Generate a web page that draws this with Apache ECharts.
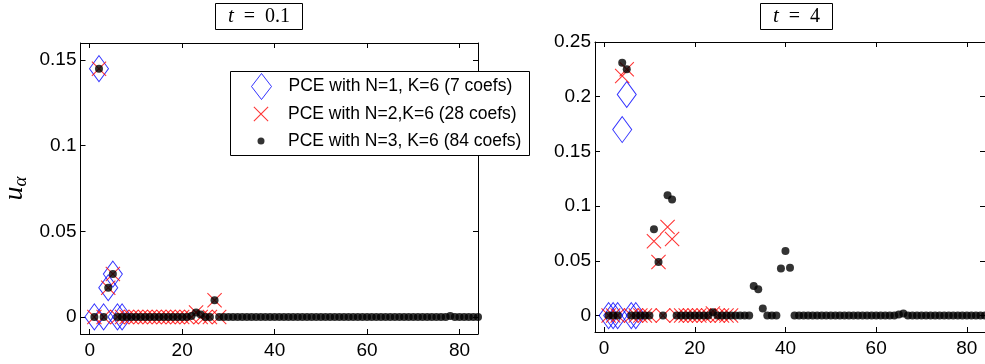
<!DOCTYPE html>
<html>
<head>
<meta charset="utf-8">
<script src="https://cdn.jsdelivr.net/npm/echarts@6/dist/echarts.min.js"></script>
<style>html,body{margin:0;padding:0;background:#fff}#c{width:985px;height:364px}</style>
</head>
<body>
<div id="c"></div>
<script>
// ---- data ----
const seriesNames = ['PCE with N=1, K=6 (7 coefs)', 'PCE with N=2,K=6 (28 coefs)', 'PCE with N=3, K=6 (84 coefs)'];
const panelTitles = ['0.1', '4'];
const xTicks = [0, 20, 40, 60, 80];
const yTicksLeft = [0, 0.05, 0.1, 0.15];
const yTicksRight = [0, 0.05, 0.1, 0.15, 0.2, 0.25];

// t = 0.1 (coefficient index 1..n)
const t01_N1 = [0, 0.145, 0, 0.017, 0.025, 0, 0];
const t01_N2 = [0, 0.145, 0, 0.017, 0.025, 0, 0, 0, 0, 0,
                0, 0, 0, 0, 0, 0, 0, 0, 0, 0,
                0, 0, 0.0025, 0, 0, 0, 0.0097, 0];
const t01_N3 = [0, 0.145, 0, 0.017, 0.025, 0, 0, 0, 0, 0,
                0, 0, 0, 0, 0, 0, 0, 0, 0, 0,
                0, 0.0005, 0.0026, 0.0014, 0, 0, 0.0097, 0, 0, 0,
                0, 0, 0, 0, 0, 0, 0, 0, 0, 0,
                0, 0, 0, 0, 0, 0, 0, 0, 0, 0,
                0, 0, 0, 0, 0, 0, 0, 0, 0, 0,
                0, 0, 0, 0, 0, 0, 0, 0, 0, 0,
                0, 0, 0, 0, 0, 0, 0, 0.0005, 0, 0,
                0, 0, 0, 0];
// t = 4
const t4_N1 = [0, 0, 0, 0.17, 0.202, 0, 0];
const t4_N2 = [0, 0, 0, 0.219, 0.225, 0, 0, 0, 0, 0,
               0.068, 0.049, 0, 0.081, 0.07, 0, 0, 0, 0, 0,
               0, 0, 0, 0.002, 0, 0, 0, 0];
const t4_N3 = [0, 0, 0, 0.231, 0.225, 0, 0, 0, 0, 0,
               0.079, 0.049, 0, 0.110, 0.106, 0, 0, 0, 0, 0,
               0, 0, 0, 0.003, 0, 0, 0, 0, 0, 0,
               0, 0, 0.027, 0.024, 0.0064, 0, 0, 0, 0.043, 0.059,
               0.0437, 0, 0, 0, 0, 0, 0, 0, 0, 0,
               0, 0, 0, 0, 0, 0, 0, 0, 0, 0,
               0, 0, 0, 0, 0.001, 0.002, 0, 0, 0, 0,
               0, 0, 0, 0, 0, 0, 0, 0, 0, 0,
               0, 0, 0, 0];

// ---- chart ----
const toPts = arr => arr.map((v, i) => [i + 1, v]);
const BLUE = '#0000ff', RED = '#ff0000';
// thin filled "x" glyph
const XPATH = 'path://M0,0.5L0.5,0L10,9.5L9.5,10Z M9.5,0L10,0.5L0.5,10L0,9.5Z';
const sans = 'Liberation Sans';
const serif = 'Liberation Serif';

const grids = [
  { left: 77, top: 43, width: 401, height: 291 },
  { left: 595, top: 42, width: 398, height: 290 }
];

function xAxes(gi) {
  const base = {
    gridIndex: gi, type: 'value', min: -2, max: 84,
    axisLine: { onZero: false, lineStyle: { color: '#000', width: 1 } },
    splitLine: { show: false },
    axisTick: { inside: true, length: 5, customValues: xTicks, lineStyle: { color: '#000' } },
  };
  return [
    Object.assign({}, base, { position: 'bottom',
      axisLabel: { customValues: xTicks, color: '#000', fontFamily: sans, fontSize: 19, margin: 7 } }),
    Object.assign({}, base, { position: 'top', axisLabel: { show: false } })
  ];
}
function yAxes(gi, min, max, ticks, named) {
  const base = {
    gridIndex: gi, type: 'value', min: min, max: max,
    axisLine: { show: true, onZero: false, lineStyle: { color: '#000', width: 1 } },
    splitLine: { show: false },
    axisTick: { show: true, inside: true, length: 5, customValues: ticks, lineStyle: { color: '#000' } },
  };
  const left = Object.assign({}, base, { position: 'left',
    axisLabel: { customValues: ticks, color: '#000', fontFamily: sans, fontSize: 19, margin: 4,
                 formatter: v => String(+v.toFixed(3)) } });
  if (named) {
    left.name = '{u|u}{a|α}';
    left.nameLocation = 'middle';
    left.nameRotate = 90;
    left.nameGap = 50;
    left.nameTextStyle = { rich: {
      u: { fontFamily: serif, fontStyle: 'italic', fontSize: 28, color: '#000' },
      a: { fontFamily: serif, fontStyle: 'italic', fontSize: 19, color: '#000', padding: [12, 0, 0, 0] }
    } };
  }
  const right = Object.assign({}, base, { position: 'right', axisLabel: { show: false } });
  return [left, right];
}

const series = [];
function addPanel(gi, n1, n2, n3) {
  const xi = gi * 2, yi = gi * 2;
  series.push({
    name: seriesNames[0], type: 'scatter', xAxisIndex: xi, yAxisIndex: yi,
    symbol: 'diamond', symbolSize: [19, 26], z: 2,
    itemStyle: { color: 'transparent', borderColor: BLUE, borderWidth: 1 },
    data: toPts(n1)
  });
  series.push({
    name: seriesNames[1], type: 'scatter', xAxisIndex: xi, yAxisIndex: yi,
    symbol: XPATH, symbolSize: 15, z: 3,
    itemStyle: { color: RED, borderWidth: 0 },
    data: toPts(n2)
  });
  series.push({
    name: seriesNames[2], type: 'scatter', xAxisIndex: xi, yAxisIndex: yi,
    symbol: 'circle', symbolSize: 8, z: 4,
    itemStyle: { color: '#000', borderWidth: 0 },
    data: toPts(n3)
  });
}
addPanel(0, t01_N1, t01_N2, t01_N3);
addPanel(1, t4_N1, t4_N2, t4_N3);

function titleFor(val, x) {
  return {
    text: '{i|t}{e|=}{r|' + val + '}',
    left: x, top: 3,
    borderColor: '#000', borderWidth: 1, padding: [3, 13, 3, 13],
    textStyle: { fontFamily: serif, fontSize: 20, fontWeight: 'normal', color: '#000',
      rich: {
        i: { fontFamily: serif, fontStyle: 'italic', fontSize: 21, color: '#000' },
        e: { fontFamily: serif, fontSize: 20, color: '#000', padding: [0, 10, 0, 10] },
        r: { fontFamily: serif, fontSize: 20, color: '#000' }
      } }
  };
}

function legendFor(i, icon, w, h, style, top) {
  return {
    data: [{ name: seriesNames[i], icon: icon, itemStyle: style }],
    itemStyle: style,
    left: 261 - w / 2, top: top, itemWidth: w, itemHeight: h,
    orient: 'vertical', padding: 0, selectedMode: false, z: 10,
    textStyle: { fontFamily: sans, fontSize: 17.5, lineHeight: 18, color: '#000',
                 padding: [0, 0, 0, 27 - w / 2 - 5] }
  };
}

const option = {
  animation: false,
  backgroundColor: '#fff',
  title: [titleFor(panelTitles[0], 215), titleFor(panelTitles[1], 760)],
  grid: grids,
  xAxis: [...xAxes(0), ...xAxes(1)],
  yAxis: [...yAxes(0, -0.01, 0.16, yTicksLeft, true), ...yAxes(1, -0.015, 0.25, yTicksRight, false)],
  legend: [
    legendFor(0, 'diamond', 20, 26, { color: 'transparent', borderColor: BLUE, borderWidth: 1 }, 73),
    legendFor(1, XPATH, 15, 15, { color: RED, borderWidth: 0 }, 105),
    legendFor(2, 'circle', 7, 7, { color: '#000', borderWidth: 0 }, 132)
  ],
  graphic: [{
    type: 'rect', z: 9, left: 230, top: 71,
    shape: { width: 299, height: 84 },
    style: { fill: '#fff', stroke: '#000', lineWidth: 1 }
  }],
  series: series
};

const chart = echarts.init(document.getElementById('c'), null, { renderer: 'canvas' });
chart.setOption(option);
</script>
</body>
</html>
